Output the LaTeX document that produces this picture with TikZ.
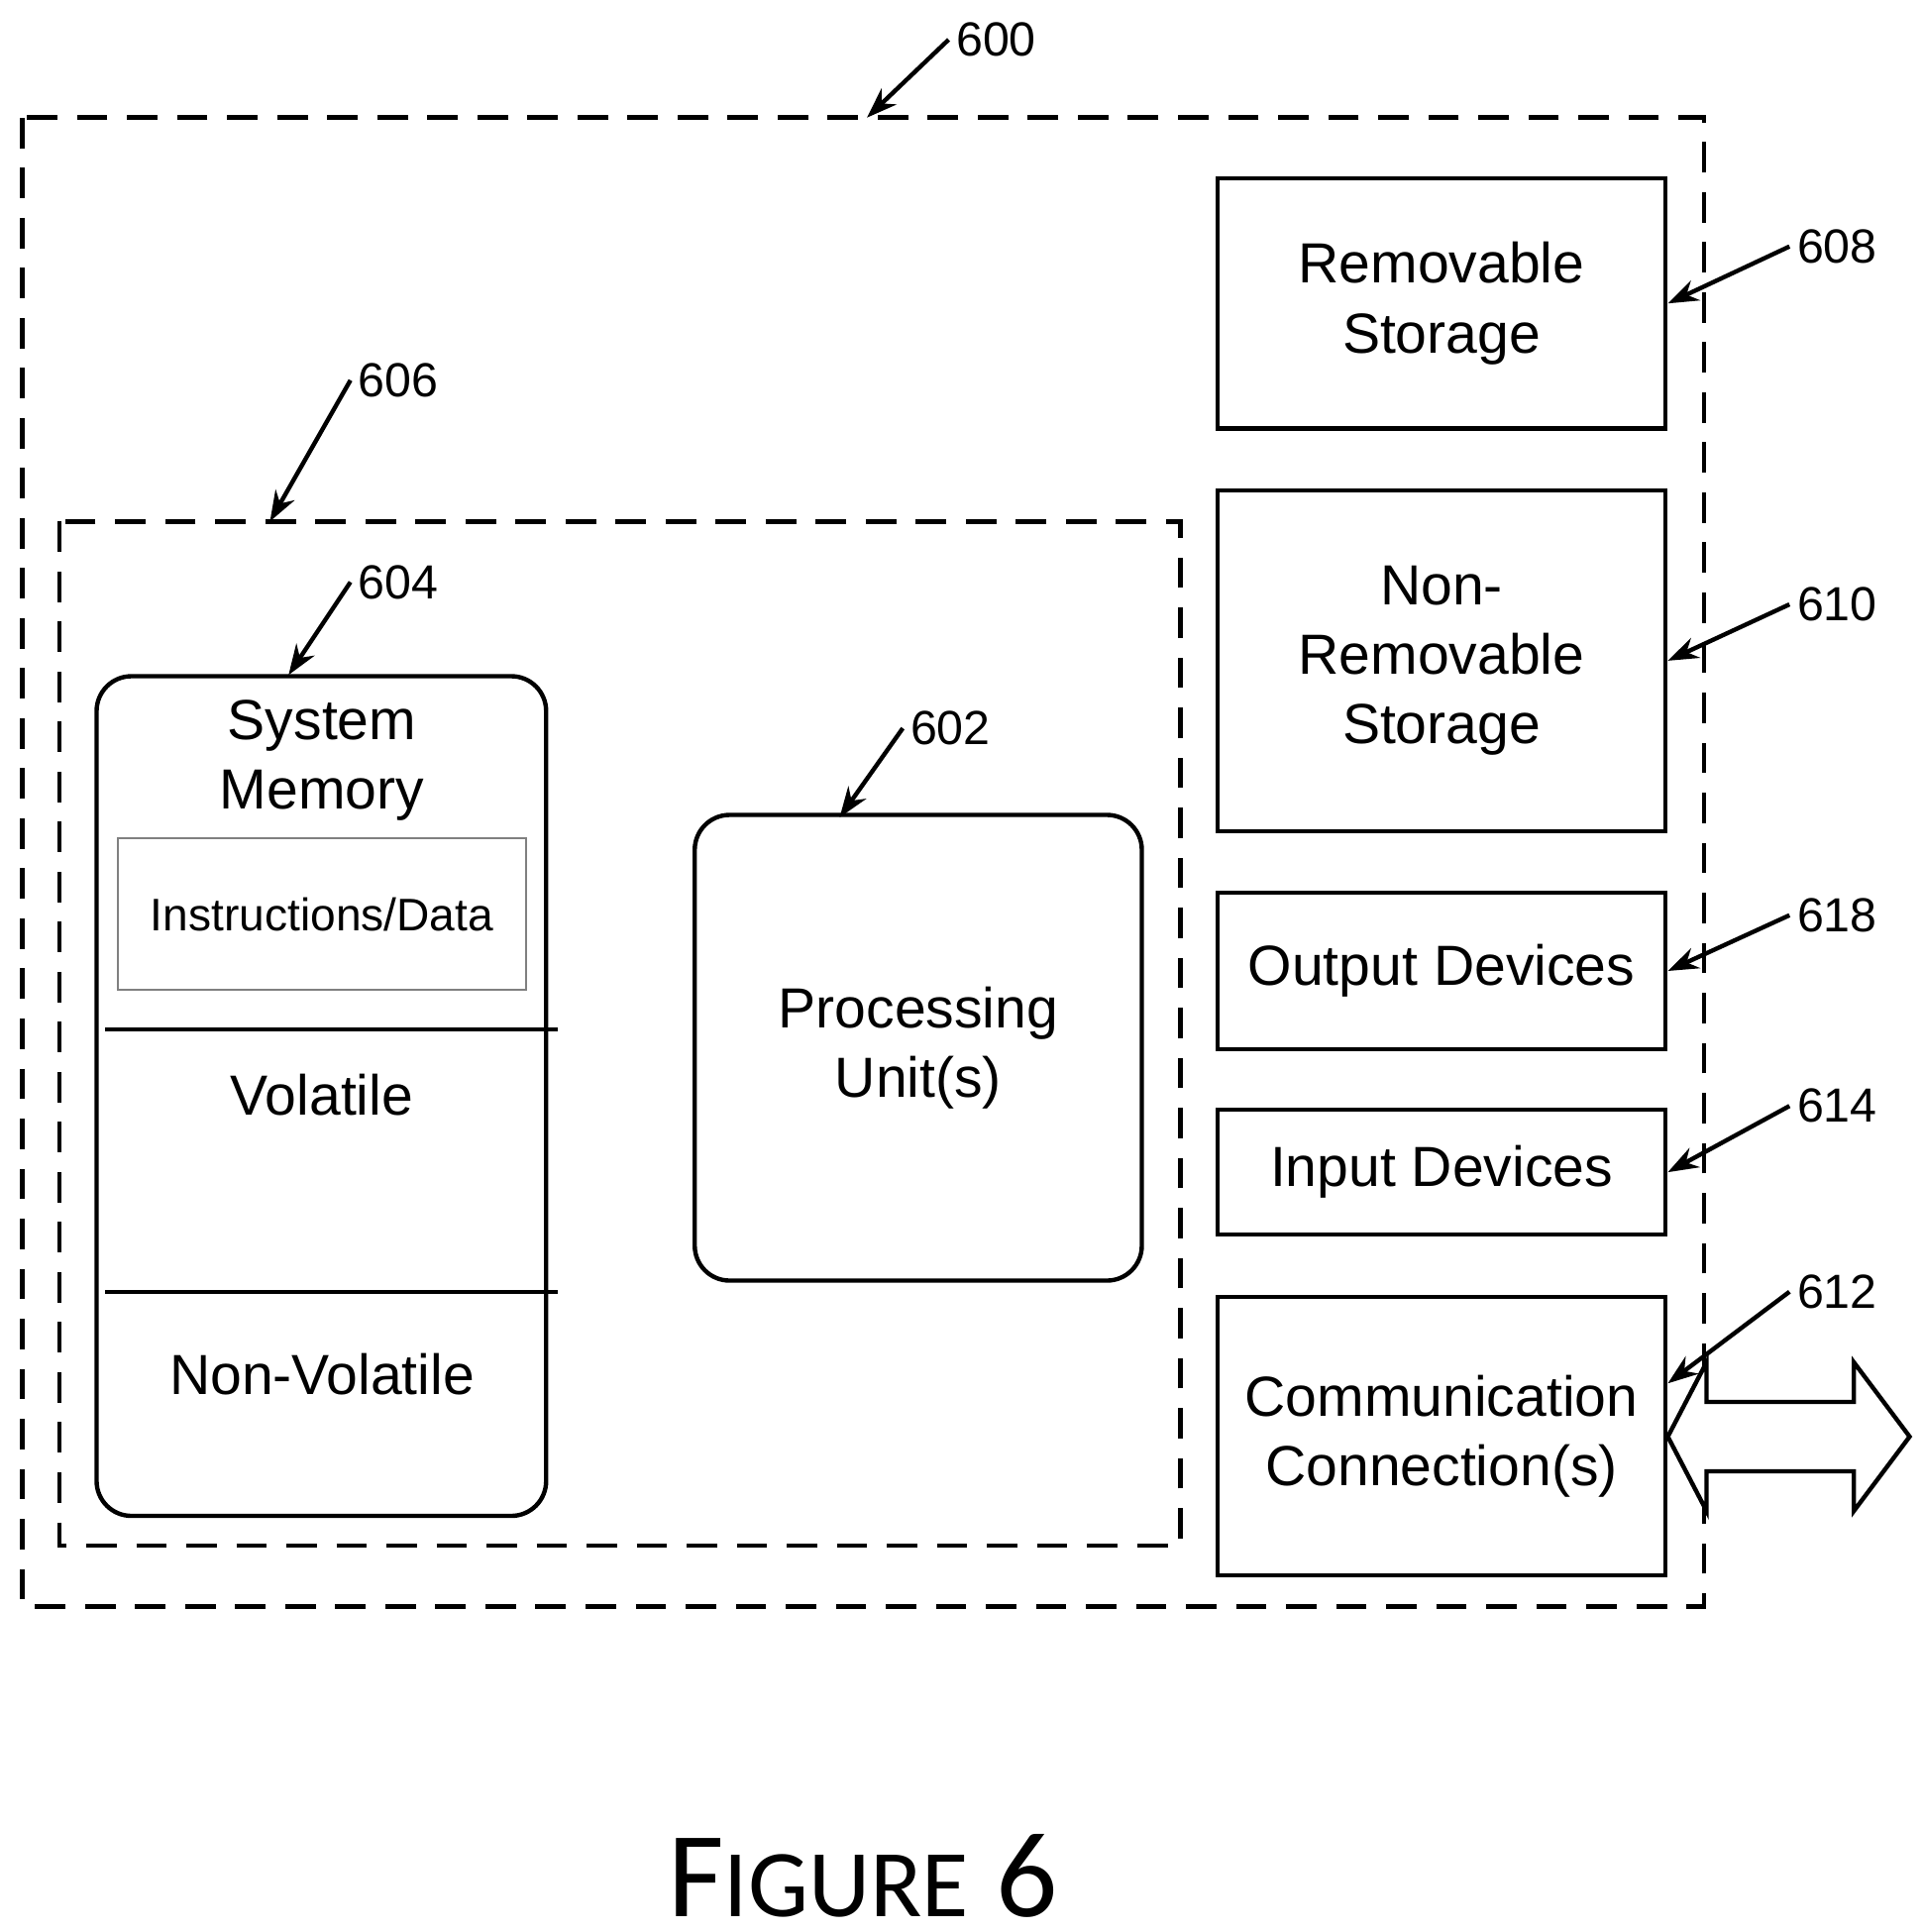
\documentclass[tikz,border=0pt]{standalone}
\usepackage{fontspec}
\setmainfont{Liberation Sans}
\newfontfamily\figfont{Carlito}
\usetikzlibrary{arrows.meta, positioning, calc, shapes.arrows}

\tikzset{
  dashbox/.style={draw, line width=2.2pt, dash pattern=on 14pt off 9pt},
  blockbox/.style={draw, line width=2pt, align=center, font=\fontsize{26}{32}\selectfont},
  roundbox/.style={blockbox, rounded corners=16pt},
  refnum/.style={font=\fontsize{22}{26}\selectfont, anchor=west},
  refarrow/.style={line width=2pt, -{Stealth[length=14pt, width=10pt]}}
}

\begin{document}
\begin{tikzpicture}[x=0.02cm, y=-0.02cm]
  \useasboundingbox (0,0) rectangle (1552,1560);

  % outer and inner dashed frames
  \draw[dashbox] (18,95) rectangle (1376,1297);
  \draw[dashbox] (48,421) rectangle (953,1248);
  \coordinate (outertop) at (700,95);
  \coordinate (innertop) at (218,421);

  % system memory
  \node[roundbox, minimum width=363*0.02cm, minimum height=678*0.02cm] (sysmem) at (259.5,885) {};
  \node[font=\fontsize{26}{32}\selectfont, align=center] (memtitle) at (260,614) {System\\Memory};
  \node[draw=gray, line width=0.8pt, minimum width=330*0.02cm, minimum height=122*0.02cm,
        font=\fontsize{21}{24}\selectfont] (instr) at (260,738) {Instructions/Data};
  \draw[line width=2pt] (85,831) -- (450,831);
  \draw[line width=2pt] (85,1043) -- (450,1043);
  \node[font=\fontsize{26}{32}\selectfont] (volatile) at (260,884) {Volatile};
  \node[font=\fontsize{26}{32}\selectfont] (nonvolatile) at (260,1110) {Non-Volatile};

  % processing unit
  \node[roundbox, minimum width=361*0.02cm, minimum height=376*0.02cm] (proc) at (741.5,846) {Processing\\Unit(s)};

  % storage and devices
  \node[blockbox, minimum width=362*0.02cm, minimum height=202*0.02cm] (remov) at (1164,245) {Removable\\Storage};
  \node[blockbox, minimum width=362*0.02cm, minimum height=275*0.02cm] (nonremov) at (1164,533.5) {Non-\\Removable\\Storage};
  \node[blockbox, minimum width=362*0.02cm, minimum height=126*0.02cm] (output) at (1164,784) {Output Devices};
  \node[blockbox, minimum width=362*0.02cm, minimum height=101*0.02cm] (input) at (1164,946.5) {Input Devices};
  \node[blockbox, minimum width=362*0.02cm, minimum height=225*0.02cm] (comm) at (1164,1159.5) {Communication\\Connection(s)};

  % double arrow out of communication connection
  \draw[line width=2pt, fill=white] (comm.east |- 0,1160) -- (1378,1100) -- (1378,1132) -- (1497,1132)
    -- (1497,1100) -- (1542,1160) -- (1497,1220) -- (1497,1188) -- (1378,1188) -- (1378,1220) -- cycle;

  % reference numerals
  \node[refnum] (n600) at (766,32) {600};
  \node[refnum] (n606) at (283,307) {606};
  \node[refnum] (n604) at (283,470) {604};
  \node[refnum] (n602) at (729,588) {602};
  \node[refnum] (n608) at (1445,199) {608};
  \node[refnum] (n610) at (1445,488) {610};
  \node[refnum] (n618) at (1445,739) {618};
  \node[refnum] (n614) at (1445,893) {614};
  \node[refnum] (n612) at (1445,1043) {612};

  \draw[refarrow] (n600.west) -- (outertop);
  \draw[refarrow] (n606.west) -- (innertop);
  \draw[refarrow] (n604.west) -- (233,545);
  \draw[refarrow] (n602.west) -- (678,660);
  \draw[refarrow] (n608.west) -- (remov.east);
  \draw[refarrow] (n610.west) -- (nonremov.east);
  \draw[refarrow] (n618.west) -- (output.east);
  \draw[refarrow] (n614.west) -- (input.east);
  \draw[refarrow] (n612.west) -- (comm.north east |- 0,1117);

  % caption
  \node[font=\figfont\fontsize{56}{60}\selectfont] (caption) at (697,1515)
    {F{\fontsize{44}{48}\selectfont IGURE} 6};
\end{tikzpicture}
\end{document}
